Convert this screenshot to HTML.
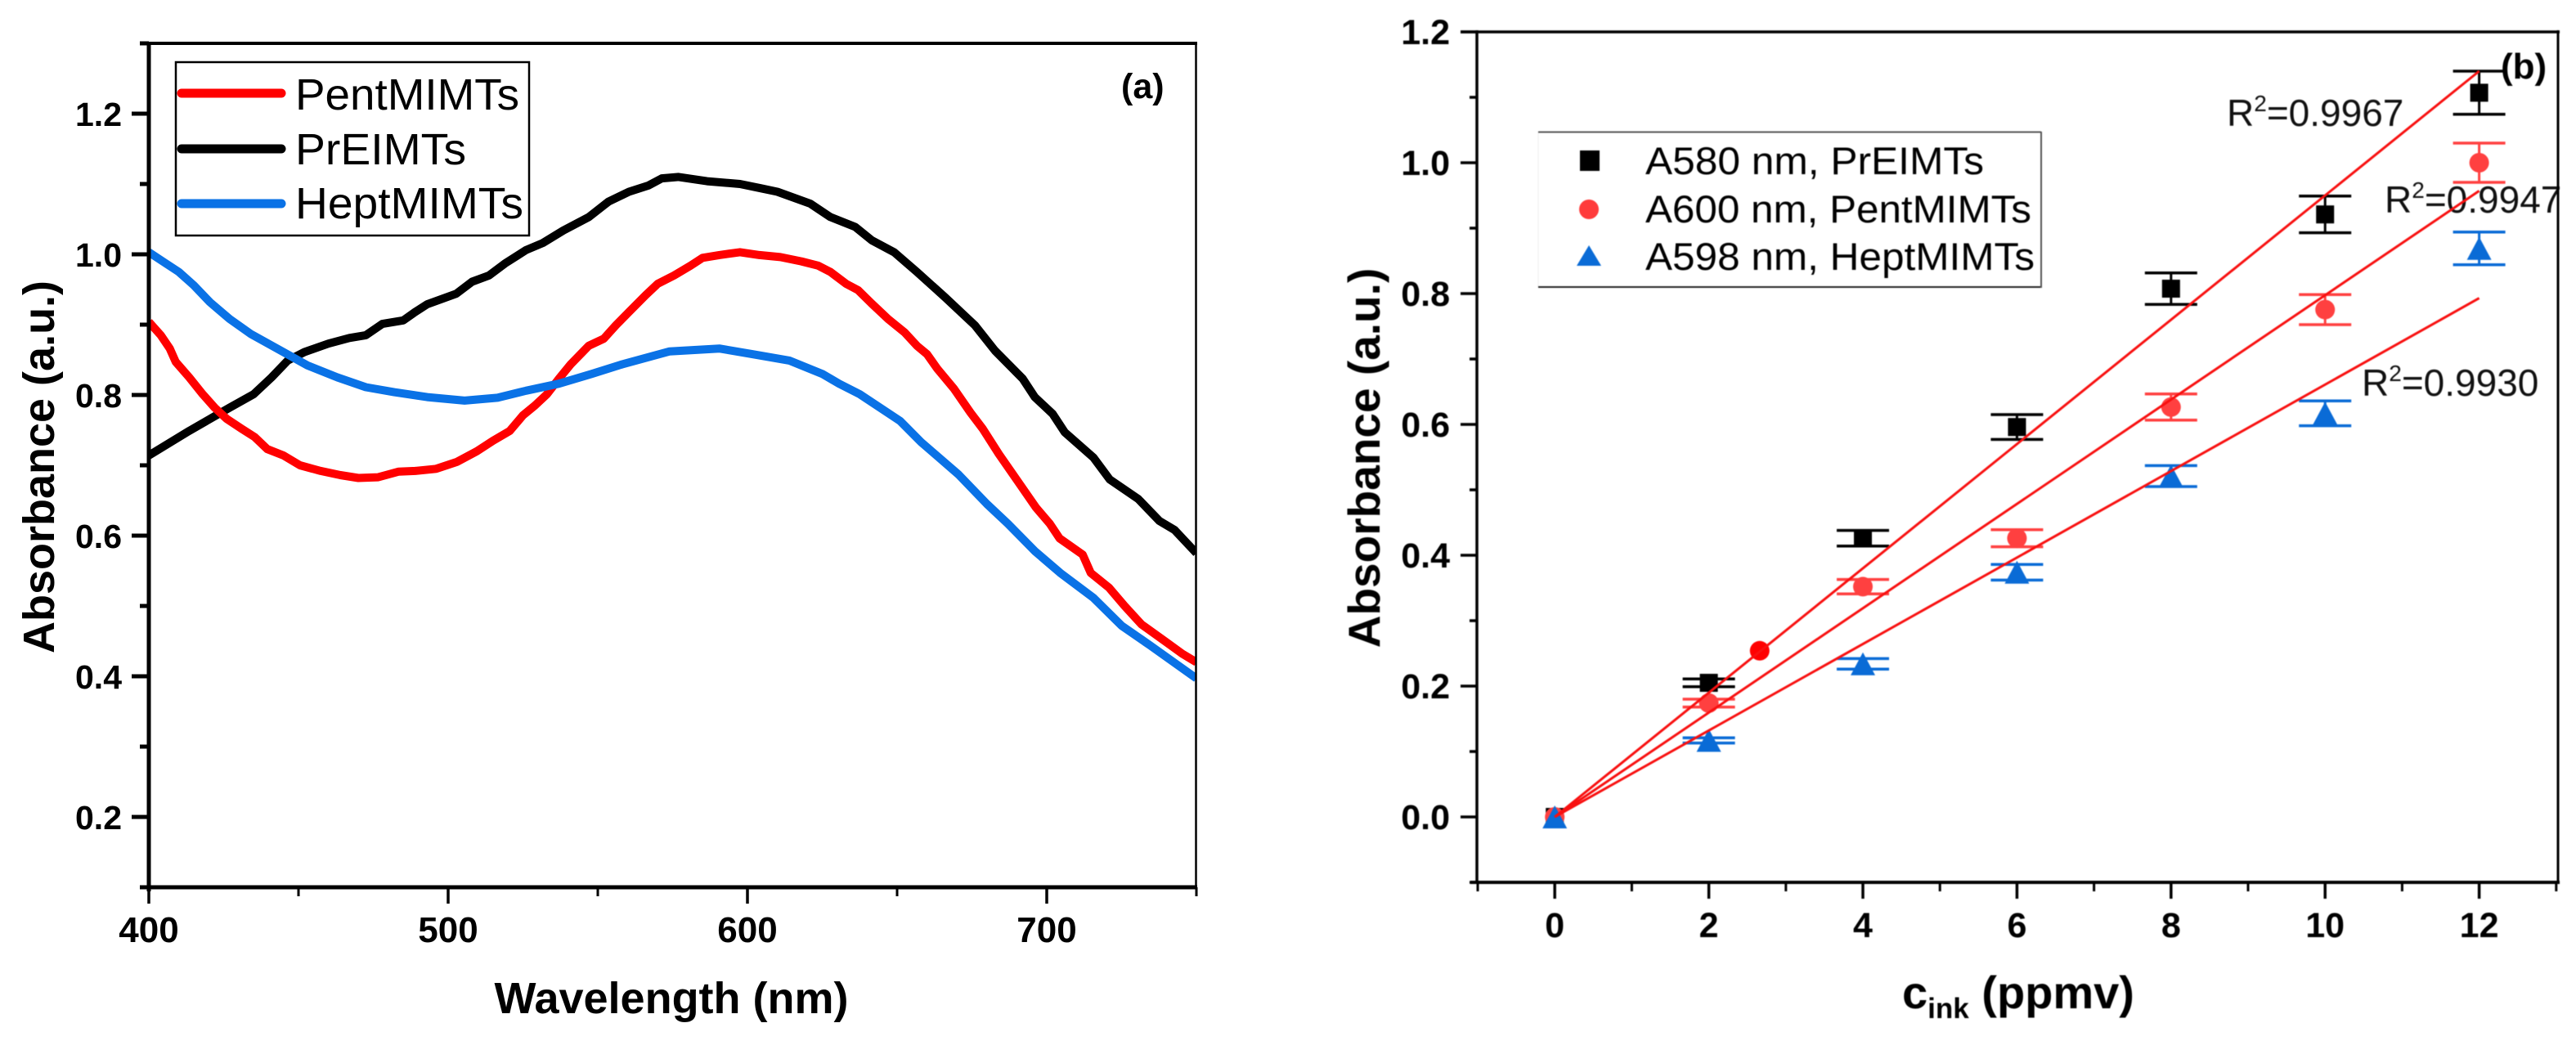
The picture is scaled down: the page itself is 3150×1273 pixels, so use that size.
<!DOCTYPE html>
<html lang="en">
<head>
<meta charset="utf-8">
<title>Absorbance charts</title>
<style>
html,body{margin:0;padding:0;background:#fff;}
svg{display:block;font-family:"Liberation Sans",Arial,sans-serif;}
</style>
</head>
<body>
<svg id="fig" xmlns="http://www.w3.org/2000/svg" width="3150" height="1273" viewBox="0 0 3150 1273">
  <rect width="3150" height="1273" fill="#fff"/>
  <g id="panelA">
    <text transform="translate(66 571) rotate(-90)" text-anchor="middle" font-size="54" font-weight="bold">Absorbance (a.u.)</text>
    <text x="821" y="1239" text-anchor="middle" font-size="54" font-weight="bold">Wavelength (nm)</text>
    <text x="1371" y="120" font-size="43" font-weight="bold">(a)</text>
  </g>
  <g id="panelB" style="filter:blur(0.5px)">
    <text transform="translate(1687 560) rotate(-90)" text-anchor="middle" font-size="55" font-weight="bold">Absorbance (a.u.)</text>
    <text x="2326" y="1233" font-size="56" font-weight="bold">c<tspan font-size="35" dy="12">ink</tspan><tspan dy="-12"> (ppmv)</tspan></text>
    <text x="3058" y="96" font-size="44" font-weight="bold">(b)</text>
    <text x="2723" y="154" font-size="46" fill="#111">R<tspan font-size="28" dy="-18">2</tspan><tspan dy="18">=0.9967</tspan></text>
    <text x="2916" y="260" font-size="46" fill="#111">R<tspan font-size="28" dy="-18">2</tspan><tspan dy="18">=0.9947</tspan></text>
    <text x="2888" y="484" font-size="46" fill="#111">R<tspan font-size="28" dy="-18">2</tspan><tspan dy="18">=0.9930</tspan></text>
    <g>
      <rect x="1881" y="161" width="615" height="190" fill="#fff" stroke="#eee" stroke-width="1"/>
      <line x1="1881" y1="161.5" x2="2496" y2="161.5" stroke="#555" stroke-width="2"/>
      <line x1="1881" y1="351" x2="2496" y2="351" stroke="#222" stroke-width="2"/>
      <line x1="2496" y1="161" x2="2496" y2="352" stroke="#555" stroke-width="2"/>
      <rect x="1932" y="184" width="24" height="25" fill="#000"/>
      <circle cx="1943" cy="256" r="12" fill="#ff3b3b"/>
      <polygon points="1943,300 1958,325 1928,325" fill="#0a6bd6"/>
      <text x="2012" y="213" font-size="47" textLength="414" lengthAdjust="spacingAndGlyphs">A580 nm, PrEIMTs</text>
      <text x="2012" y="272" font-size="47" textLength="472" lengthAdjust="spacingAndGlyphs">A600 nm, PentMIMTs</text>
      <text x="2012" y="330" font-size="47" textLength="476" lengthAdjust="spacingAndGlyphs">A598 nm, HeptMIMTs</text>
    </g>
  </g>
</svg>
<script>
// Panel (a): spectra
const pentWl = [400,404,407,409,413.5,418,422,426,431,435.4,439.6,445,450.5,457.4,464,470,476.6,483.5,489,496,503,509.6,515,520.6,525,529,533,537,541,547,552,556,560.4,566,570,575.5,581,585,590.6,597.5,604,611,618,623.6,627.7,633,637,641.5,647,652.5,656.6,660,663.5,669,674.5,678.6,684,691,696.4,701,704.3,712,714.7,720.8,726,731.6,739.8,745.3,750];
const pentAbs = [0.904,0.885,0.866,0.847,0.825,0.801,0.782,0.766,0.752,0.74,0.723,0.714,0.70,0.692,0.686,0.682,0.683,0.691,0.692,0.695,0.705,0.72,0.735,0.749,0.771,0.785,0.801,0.823,0.844,0.87,0.88,0.899,0.918,0.942,0.958,0.97,0.984,0.995,0.999,1.003,0.999,0.996,0.99,0.984,0.975,0.958,0.949,0.93,0.908,0.889,0.87,0.858,0.837,0.809,0.775,0.752,0.716,0.673,0.64,0.617,0.596,0.573,0.547,0.526,0.50,0.474,0.449,0.432,0.42];
const prWl = [400,413.5,427,435,441,446.4,452,460,467,472.5,478,485,489,493,502.7,508,513.7,519,526,531.6,538.5,547,553.6,560.4,567,571.4,577,586.5,597.5,604.4,610,621,627.7,636,641.5,649,656.6,666,676,682.7,692,696,702,706,715.6,721,730.6,737.6,742.7,750];
const prAbs = [0.714,0.749,0.782,0.801,0.825,0.849,0.861,0.873,0.881,0.885,0.901,0.906,0.918,0.929,0.944,0.961,0.970,0.987,1.006,1.016,1.034,1.053,1.075,1.089,1.098,1.108,1.11,1.104,1.1,1.094,1.089,1.072,1.053,1.039,1.02,1.003,0.975,0.939,0.899,0.863,0.823,0.797,0.773,0.747,0.711,0.68,0.652,0.621,0.608,0.575];
const heptWl = [400,405,410,415,420.4,427,434,442,453,463,472.5,482,493,505.5,516.5,526,537,548,557.7,574,590.6,601.6,614,625,630.6,637.5,651,658,670.5,680,687,696,704.5,715.5,725,734.5,750];
const heptAbs = [1.003,0.989,0.975,0.956,0.932,0.908,0.887,0.868,0.842,0.825,0.811,0.804,0.797,0.792,0.796,0.806,0.816,0.83,0.843,0.862,0.866,0.858,0.849,0.83,0.816,0.801,0.763,0.733,0.687,0.645,0.617,0.578,0.547,0.512,0.472,0.444,0.397];
const aXTicks = [400,500,600,700];
const aXMinor = [450,550,650,750];
const aYTicks = ["0.2","0.4","0.6","0.8","1.0","1.2"];
const aYMinor = [0.1,0.3,0.5,0.7,0.9,1.1,1.3];
const aLegend = ["PentMIMTs","PrEIMTs","HeptMIMTs"];

// Panel (b): calibration
const concentrations = [0,2,4,6,8,10,12];
const prPoints = [0,0.205,0.426,0.596,0.8075,0.921,1.107];
const prErrors = [0,0.006,0.012,0.019,0.024,0.028,0.033];
const pentPoints = [0,0.174,0.352,0.426,0.6265,0.7755,1.0];
const pentErrors = [0,0.006,0.011,0.013,0.02,0.023,0.03];
const heptPoints = [0,0.117,0.234,0.374,0.521,0.617,0.869];
const heptErrors = [0,0.004,0.008,0.012,0.016,0.019,0.025];
const extraPointX = [2.66];
const extraPointY = [0.254];
const fitEndX = [12];
const fitEnds = [1.14,0.957,0.793];
const bXTicks = [0,2,4,6,8,10,12];
const bXMinor = [-1,1,3,5,7,9,11,13];
const bYTicks = ["0.0","0.2","0.4","0.6","0.8","1.0","1.2"];
const bYMinor = [-0.1,0.1,0.3,0.5,0.7,0.9,1.1];

const NS = 'http://www.w3.org/2000/svg';
const panelA = document.getElementById('panelA');
const panelB = document.getElementById('panelB');
function mk(parent, tag, attrs, txt) {
  const el = document.createElementNS(NS, tag);
  for (const k in attrs) el.setAttribute(k, attrs[k]);
  if (txt !== undefined) el.textContent = txt;
  parent.appendChild(el);
  return el;
}
function ax(v) { return 182 + (v - 400) * 3.66; }
function ay(v) { return 1171 - v * 860; }
function bx(v) { return 1901.2 + v * 94.2; }
function by(v) { return 999 - v * 800; }
let el;

// ---- Panel A ----
const clipA = mk(panelA, 'clipPath', {id: 'clipA'});


mk(clipA, 'rect', {x: 182, y: 53, width: 1281, height: 1032});
const seriesA = mk(panelA, 'g', {'clip-path': 'url(#clipA)'});


function drawSpectrum(wl, abs, color, name) {
  const pts = wl.map(function (w, i) { return ax(w).toFixed(1) + ',' + ay(abs[i]).toFixed(1); }).join(' ');
  const s = mk(seriesA, 'polyline', {points: pts, fill: 'none', stroke: color, 'stroke-width': 10, 'stroke-linejoin': 'round'});
  
  
}
drawSpectrum(prWl, prAbs, '#000', 'series-preimts');
drawSpectrum(pentWl, pentAbs, '#ff0000', 'series-pentmimts');
drawSpectrum(heptWl, heptAbs, '#0a72e6', 'series-heptmimts');

// axes frame A
el = mk(panelA, 'line', {x1: 182, y1: 51, x2: 182, y2: 1090, stroke: '#000', 'stroke-width': 5});


el = mk(panelA, 'line', {x1: 1462.5, y1: 51, x2: 1462.5, y2: 1085, stroke: '#000', 'stroke-width': 2.5});


el = mk(panelA, 'line', {x1: 171, y1: 53, x2: 1464, y2: 53, stroke: '#000', 'stroke-width': 4});


el = mk(panelA, 'line', {x1: 171, y1: 1085, x2: 1464, y2: 1085, stroke: '#000', 'stroke-width': 5});



aXTicks.forEach(function (t) {
  const tick = mk(panelA, 'line', {x1: ax(t), y1: 1085, x2: ax(t), y2: 1105, stroke: '#000', 'stroke-width': 3.5});
  
  
  const lab = mk(panelA, 'text', {x: ax(t), y: 1152, 'text-anchor': 'middle', 'font-size': 44, 'font-weight': 'bold'}, String(t));
  
  
});
aXMinor.forEach(function (t) {
  const tick = mk(panelA, 'line', {x1: ax(t), y1: 1085, x2: ax(t), y2: 1096, stroke: '#000', 'stroke-width': 3});
  
  
});
aYTicks.forEach(function (t) {
  const y = ay(parseFloat(t));
  const tick = mk(panelA, 'line', {x1: 161, y1: y, x2: 182, y2: y, stroke: '#000', 'stroke-width': 5});
  
  
  const lab = mk(panelA, 'text', {x: 149, y: y + 15, 'text-anchor': 'end', 'font-size': 41, 'font-weight': 'bold'}, t);
  
  
});
aYMinor.forEach(function (t) {
  const y = ay(t);
  const tick = mk(panelA, 'line', {x1: 171, y1: y, x2: 182, y2: y, stroke: '#000', 'stroke-width': 5});
  
  
});

// legend A
el = mk(panelA, 'rect', {x: 215, y: 76, width: 432, height: 212, fill: '#fff', stroke: '#000', 'stroke-width': 2.5});


const legendColors = ['#ff0000', '#000', '#0a72e6'];
const legendLineY = [114, 182, 249];
const legendTextY = [134, 201, 267];
const legendTextWidth = [274, 209, 279];
aLegend.forEach(function (name, i) {
  const ln = mk(panelA, 'line', {x1: 222, y1: legendLineY[i], x2: 344, y2: legendLineY[i], stroke: legendColors[i], 'stroke-width': 11, 'stroke-linecap': 'round'});
  
  
  const tx = mk(panelA, 'text', {x: 361, y: legendTextY[i], 'font-size': 54, textLength: legendTextWidth[i], lengthAdjust: 'spacingAndGlyphs'}, name);
  
  
});

// ---- Panel B ----
el = mk(panelB, 'line', {x1: 1806, y1: 37, x2: 1806, y2: 1080, stroke: '#000', 'stroke-width': 3.5});


el = mk(panelB, 'line', {x1: 3128, y1: 37, x2: 3128, y2: 1080, stroke: '#000', 'stroke-width': 3});


el = mk(panelB, 'line', {x1: 1786, y1: 39, x2: 3130, y2: 39, stroke: '#000', 'stroke-width': 3.5});


el = mk(panelB, 'line', {x1: 1798, y1: 1079, x2: 3130, y2: 1079, stroke: '#000', 'stroke-width': 4});



bXTicks.forEach(function (t) {
  const tick = mk(panelB, 'line', {x1: bx(t), y1: 1079, x2: bx(t), y2: 1099, stroke: '#000', 'stroke-width': 3.5});
  
  
  const lab = mk(panelB, 'text', {x: bx(t), y: 1146, 'text-anchor': 'middle', 'font-size': 43, 'font-weight': 'bold'}, String(t));
  
  
});
bXMinor.forEach(function (t) {
  const tick = mk(panelB, 'line', {x1: bx(t), y1: 1079, x2: bx(t), y2: 1090, stroke: '#000', 'stroke-width': 3});
  
  
});
bYTicks.forEach(function (t) {
  const y = by(parseFloat(t));
  const tick = mk(panelB, 'line', {x1: 1786, y1: y, x2: 1806, y2: y, stroke: '#000', 'stroke-width': 3.5});
  
  
  const lab = mk(panelB, 'text', {x: 1773, y: y + 15, 'text-anchor': 'end', 'font-size': 43, 'font-weight': 'bold'}, t);
  
  
});
bYMinor.forEach(function (t) {
  const y = by(t);
  const tick = mk(panelB, 'line', {x1: 1797, y1: y, x2: 1806, y2: y, stroke: '#000', 'stroke-width': 3.5});
  
  
});

function errorBar(x, v, e, color) {
  if (e === 0) return;
  const stem = mk(panelB, 'line', {x1: bx(x), y1: by(v + e), x2: bx(x), y2: by(v - e), stroke: color, 'stroke-width': 3});
  
  
  const capTop = mk(panelB, 'line', {x1: bx(x) - 32, y1: by(v + e), x2: bx(x) + 32, y2: by(v + e), stroke: color, 'stroke-width': 3.5});
  
  
  const capBottom = mk(panelB, 'line', {x1: bx(x) - 32, y1: by(v - e), x2: bx(x) + 32, y2: by(v - e), stroke: color, 'stroke-width': 3.5});
  
  
}
concentrations.forEach(function (c, i) {
  errorBar(c, prPoints[i], prErrors[i], '#000');
  const sq = mk(panelB, 'rect', {x: bx(c) - 11, y: by(prPoints[i]) - 11, width: 22, height: 22, fill: '#000'});
  
  
});
concentrations.forEach(function (c, i) {
  errorBar(c, pentPoints[i], pentErrors[i], '#ff4040');
  const ci = mk(panelB, 'circle', {cx: bx(c), cy: by(pentPoints[i]), r: 12, fill: '#ff4040'});
  
  
});
concentrations.forEach(function (c, i) {
  errorBar(c, heptPoints[i], heptErrors[i], '#0a6bd6');
  const x = bx(c), y = by(heptPoints[i]);
  const tr = mk(panelB, 'polygon', {points: x + ',' + (y - 14) + ' ' + (x + 15) + ',' + (y + 14) + ' ' + (x - 15) + ',' + (y + 14), fill: '#0a6bd6'});
  
  
});
extraPointX.forEach(function (x, i) {
  const p = mk(panelB, 'circle', {cx: bx(x), cy: by(extraPointY[i]), r: 12, fill: '#ff0000'});
  
  
});
fitEnds.forEach(function (v) {
  const f = mk(panelB, 'line', {x1: bx(0), y1: by(0), x2: bx(fitEndX[0]), y2: by(v), stroke: '#f81010', 'stroke-width': 3});
  
  
});
</script>
</body>
</html>
